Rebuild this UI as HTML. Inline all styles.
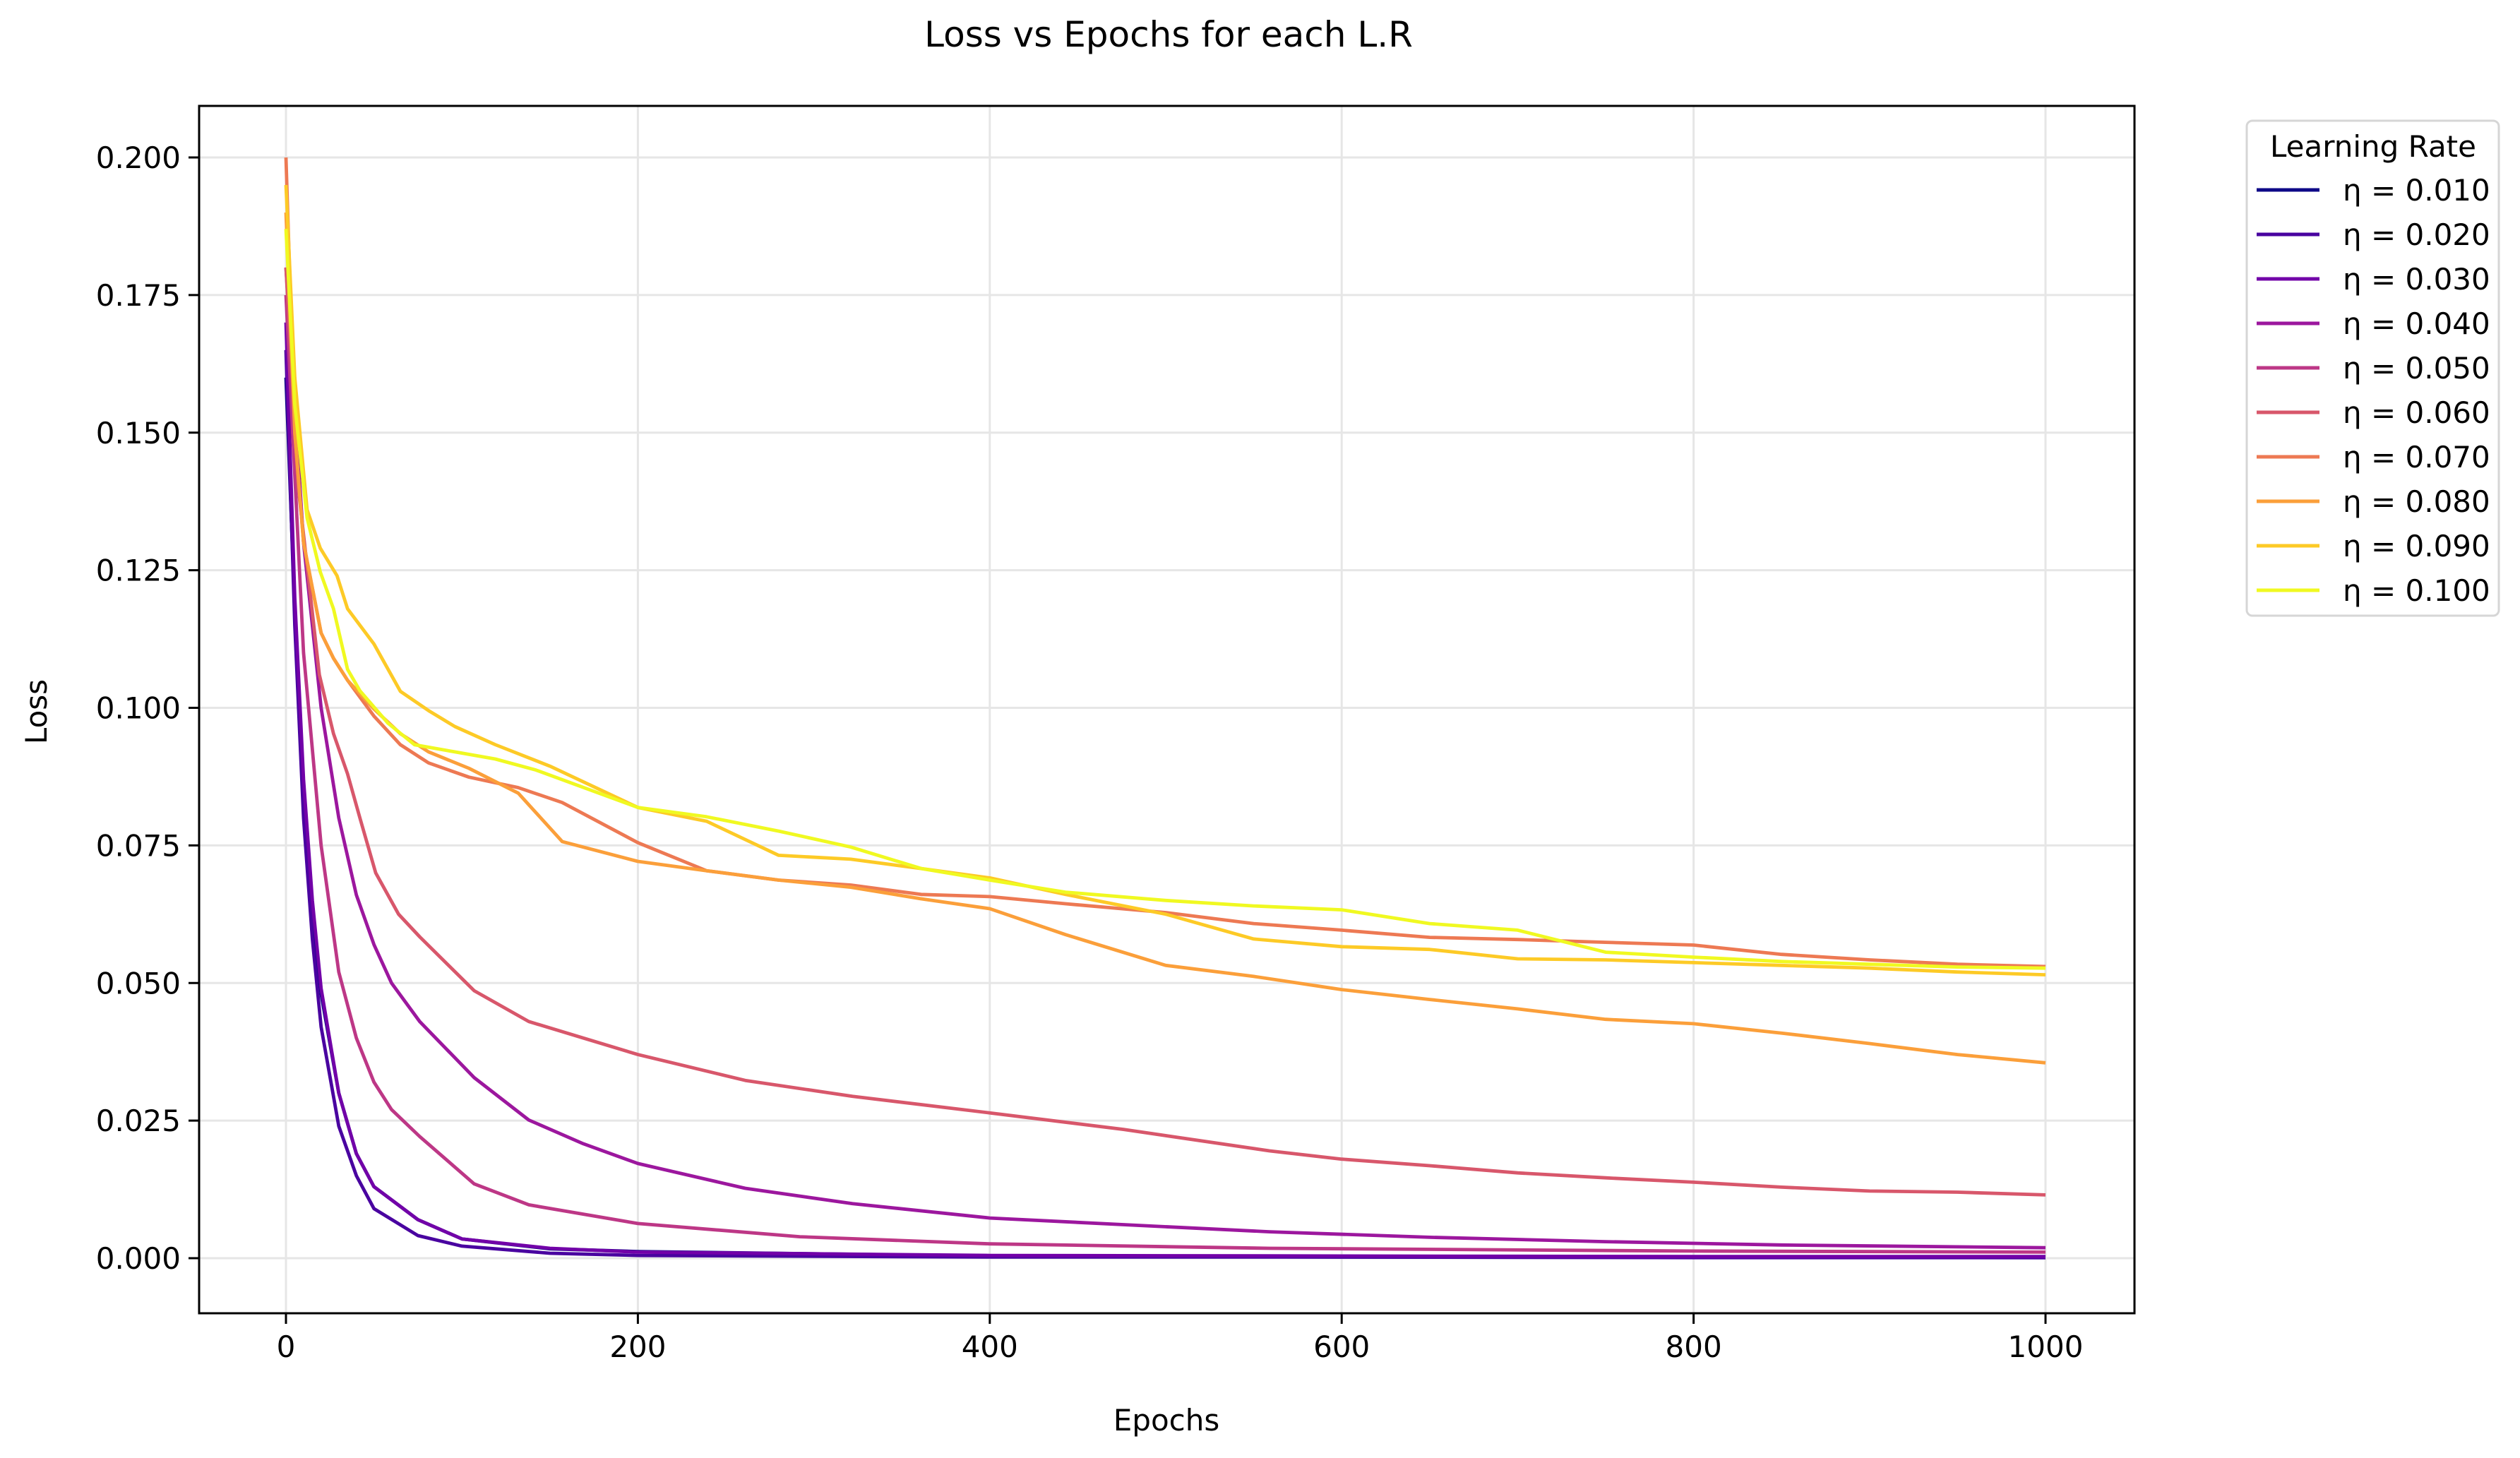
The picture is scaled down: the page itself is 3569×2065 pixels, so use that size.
<!DOCTYPE html>
<html><head><meta charset="utf-8">
<style>
html,body{margin:0;padding:0;background:#fff;}
svg{display:block;font-family:"DejaVu Sans","Liberation Sans",sans-serif;}
</style></head>
<body>
<svg id="chart" width="3569" height="2065" viewBox="0 0 3569 2065">
<rect width="3569" height="2065" fill="#fff"/>
<text x="1655" y="66" font-size="50" text-anchor="middle">Loss vs Epochs for each L.R</text>
<text x="1652" y="2026" font-size="42" text-anchor="middle">Epochs</text>
<text x="0" y="0" font-size="42" text-anchor="middle" transform="translate(66,1008) rotate(-90)">Loss</text>
<defs><clipPath id="clip"><rect x="282" y="150" width="2741" height="1710"/></clipPath></defs>
<g id="grid"></g>
<g id="series" clip-path="url(#clip)"></g>
<rect x="282" y="150" width="2741" height="1710" fill="none" stroke="#000" stroke-width="3"/>
<g id="ticks"></g>
<g id="legend">
<rect x="3182" y="171" width="357" height="701" rx="8" fill="#fff" stroke="#d6d6d6" stroke-width="3"/>
<text x="3361" y="222" font-size="42" text-anchor="middle">Learning Rate</text>
</g>
</svg>
<script>
const lrLabels = ["η = 0.010","η = 0.020","η = 0.030","η = 0.040","η = 0.050","η = 0.060","η = 0.070","η = 0.080","η = 0.090","η = 0.100"];
const colors = ["#0d0887","#4903a0","#7201a8","#9c179e","#bd3786","#d8576b","#ed7953","#fb9f3a","#fdca26","#f0f921"];
const xTicks = [0,200,400,600,800,1000];
const yTicks = [0,0.025,0.05,0.075,0.1,0.125,0.15,0.175,0.2];
const yTickLabels = ["0.000","0.025","0.050","0.075","0.100","0.125","0.150","0.175","0.200"];
const epochsFast = [0,5,10,15,20,30,40,50,75,100,150,200,400,600,800,1000];
const s010 = [0.16,0.118,0.085,0.063,0.048,0.03,0.019,0.013,0.007,0.0035,0.0017,0.0012,0.0004,0.0002,0.00015,0.0001];
const s020 = [0.165,0.115,0.08,0.058,0.042,0.024,0.015,0.009,0.0041,0.0022,0.0009,0.0005,0.0002,0.0002,0.0001,0.0001];
const s030 = [0.17,0.12,0.087,0.065,0.049,0.03,0.019,0.013,0.007,0.0035,0.0018,0.0011,0.0005,0.0004,0.0003,0.0003];
const epochs040 = [0,10,20,30,40,50,60,76,107,138,169,200,261,322,400,476,559,650,750,850,1000];
const s040 = [0.18,0.13,0.1,0.08,0.066,0.057,0.05,0.043,0.0328,0.0251,0.0208,0.0172,0.0127,0.0099,0.0073,0.0061,0.0048,0.0038,0.003,0.0024,0.0019];
const epochs050 = [0,10,20,30,40,50,60,76,107,138,200,292,400,559,800,1000];
const s050 = [0.175,0.11,0.075,0.052,0.04,0.032,0.027,0.0221,0.0135,0.0097,0.0063,0.0039,0.0026,0.0018,0.0013,0.0011];
const epochs060 = [0,7,19,27,35,42,51,64,76,107,138,169,200,261,322,400,476,559,600,650,700,750,800,850,900,950,1000];
const s060 = [0.18,0.14,0.106,0.0953,0.088,0.08,0.07,0.0625,0.0584,0.0486,0.043,0.040,0.037,0.0323,0.0294,0.0264,0.0234,0.0195,0.018,0.0168,0.0155,0.0146,0.0138,0.0129,0.0122,0.012,0.0115];
const epochsHigh = [0,5,10,20,27,35,50,65,81,104,132,157,200,239,280,321,361,400,443,500,550,600,650,700,750,800,850,900,950,1000];
const s070 = [0.2,0.15,0.13,0.1136,0.109,0.105,0.0985,0.0933,0.090,0.0874,0.0855,0.0828,0.0755,0.0704,0.0687,0.0678,0.0661,0.0657,0.0644,0.0628,0.0608,0.0596,0.0583,0.0579,0.0574,0.0569,0.0552,0.0542,0.0534,0.053];
const s080 = [0.19,0.15,0.13,0.1136,0.109,0.105,0.0998,0.0953,0.092,0.089,0.0845,0.0757,0.0721,0.0704,0.0687,0.0674,0.0653,0.0635,0.0588,0.0532,0.0512,0.0488,0.047,0.0453,0.0434,0.0426,0.0409,0.039,0.037,0.0355];
const epochs090 = [0,5,12,19.5,29,35,50,65,81,96,119,150,200,239,280,321,361,400,443,500,550,600,650,700,750,800,850,900,950,1000];
const s090 = [0.195,0.16,0.136,0.129,0.124,0.118,0.1116,0.103,0.0995,0.0966,0.0933,0.0894,0.0819,0.0794,0.0732,0.0725,0.0708,0.0691,0.0661,0.0625,0.058,0.0566,0.0561,0.0544,0.0542,0.0537,0.0532,0.0527,0.052,0.0515];
const epochs100 = [0,5,12,19.5,27,35,42,58,73,96,119,142,200,239,280,321,361,400,443,500,550,600,650,700,750,800,850,900,950,1000];
const s100 = [0.187,0.155,0.1345,0.1247,0.118,0.107,0.1031,0.0972,0.0933,0.092,0.0907,0.0887,0.0819,0.0802,0.0776,0.0747,0.0708,0.0687,0.0665,0.065,0.064,0.0633,0.0608,0.0596,0.0556,0.0547,0.0539,0.0534,0.0529,0.0527];
const seriesX = [epochsFast,epochsFast,epochsFast,epochs040,epochs050,epochs060,epochsHigh,epochsHigh,epochs090,epochs100];
const seriesY = [s010,s020,s030,s040,s050,s060,s070,s080,s090,s100];

const NS = "http://www.w3.org/2000/svg";
function xs(v){return 405 + v*(2897-405)/1000;}
function ys(v){return 1782 - v*(1782-223)/0.2;}
function mk(tag, attrs, parent){const e=document.createElementNS(NS,tag);for(const k in attrs)e.setAttribute(k,attrs[k]);parent.appendChild(e);return e;}
const grid=document.getElementById('grid'), ticks=document.getElementById('ticks'), series=document.getElementById('series'), legend=document.getElementById('legend');
xTicks.forEach((t)=>{
  const g=mk('line',{x1:xs(t),x2:xs(t),y1:150,y2:1860,stroke:'#e6e6e6','stroke-width':3},grid);
  
  
  const tk=mk('line',{x1:xs(t),x2:xs(t),y1:1860,y2:1875,stroke:'#000','stroke-width':3},ticks);
  
  
  const tx=mk('text',{x:xs(t),y:1922,'font-size':42,'text-anchor':'middle'},ticks);
  tx.textContent=String(t);
  
  
});
yTicks.forEach((t,i)=>{
  const g=mk('line',{x1:282,x2:3023,y1:ys(t),y2:ys(t),stroke:'#e6e6e6','stroke-width':3},grid);
  
  
  const tk=mk('line',{x1:267,x2:282,y1:ys(t),y2:ys(t),stroke:'#000','stroke-width':3},ticks);
  
  
  const tx=mk('text',{x:256,y:ys(t)+15,'font-size':42,'text-anchor':'end'},ticks);
  tx.textContent=yTickLabels[i];
  
  
});
seriesY.forEach((vals,i)=>{
  const xv=seriesX[i];
  const pts=vals.map((v,j)=>xs(xv[j]).toFixed(1)+','+ys(v).toFixed(1)).join(' ');
  const p=mk('polyline',{points:pts,fill:'none',stroke:colors[i],'stroke-width':4.8,'stroke-linejoin':'round','stroke-linecap':'butt'},series);
  
  
  const y=269+i*63;
  const l=mk('line',{x1:3196,x2:3285,y1:y,y2:y,stroke:colors[i],'stroke-width':5},legend);
  
  
  const t=mk('text',{x:3318,y:y+15,'font-size':42},legend);
  t.textContent=lrLabels[i];
  
  
});
</script>
</body></html>
